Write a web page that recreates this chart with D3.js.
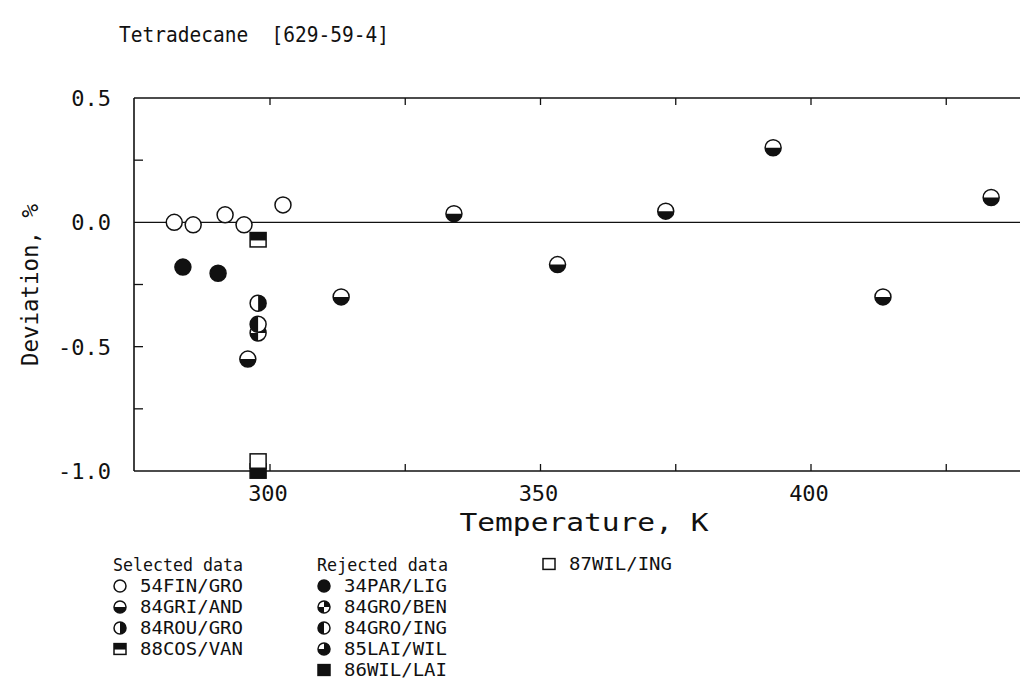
<!DOCTYPE html>
<html><head><meta charset="utf-8">
<script src="https://cdn.jsdelivr.net/npm/d3@7"></script>
<style>
body{margin:0;background:#fff;}
svg text{font-family:"DejaVu Sans Mono",monospace;fill:#111;white-space:pre;}
</style></head>
<body><svg id="c" width="1020" height="694"></svg>
<script>
// ---- data ----
const title = "Tetradecane  [629-59-4]";
const xTicksLabeled = [300, 350, 400];
const xTicksAll = [275, 300, 325, 350, 375, 400, 425, 450];
const yTicksLabeled = [0.5, 0.0, -0.5, -1.0];
const yTickText = ["0.5", "0.0", "-0.5", "-1.0"];
const yTicksMinor = [0.25, -0.25, -0.75];

// series: temperature (K) and deviation (%)
const fin54_T = [282.3, 285.8, 291.7, 295.2, 302.4];
const fin54_D = [0.0, -0.01, 0.03, -0.01, 0.07];
const gri84_T = [295.9, 313.15, 334.0, 353.15, 373.15, 393.0, 413.3, 433.3];
const gri84_D = [-0.55, -0.30, 0.035, -0.17, 0.045, 0.30, -0.30, 0.10];
const rou84_T = [297.8];
const rou84_D = [-0.325];
const cos88_T = [297.8];
const cos88_D = [-0.07];
const par34_T = [283.9, 290.4];
const par34_D = [-0.18, -0.205];
const ben84_T = [297.8];
const ben84_D = [-0.445];
const ing84_T = [297.8];
const ing84_D = [-0.41];
const lai85_T = [];
const lai85_D = [];
const wil86_T = [297.8];
const wil86_D = [-1.0];
const wil87_T = [297.8];
const wil87_D = [-0.96];

const series = [
  {name:"54FIN/GRO", sym:"open",     T:fin54_T, D:fin54_D, col:0, row:0},
  {name:"84GRI/AND", sym:"bottomHalf", T:gri84_T, D:gri84_D, col:0, row:1},
  {name:"84ROU/GRO", sym:"rightHalf", T:rou84_T, D:rou84_D, col:0, row:2},
  {name:"88COS/VAN", sym:"sqTopHalf", T:cos88_T, D:cos88_D, col:0, row:3},
  {name:"34PAR/LIG", sym:"filled",   T:par34_T, D:par34_D, col:1, row:0},
  {name:"84GRO/BEN", sym:"quadrants", T:ben84_T, D:ben84_D, col:1, row:1},
  {name:"84GRO/ING", sym:"leftHalf", T:ing84_T, D:ing84_D, col:1, row:2},
  {name:"85LAI/WIL", sym:"threeQuarter", T:lai85_T, D:lai85_D, col:1, row:3},
  {name:"86WIL/LAI", sym:"sqFilled", T:wil86_T, D:wil86_D, col:1, row:4},
  {name:"87WIL/ING", sym:"sqOpen",   T:wil87_T, D:wil87_D, col:2, row:-1}
];

// ---- layout ----
const svg = d3.select("#c");
const L = 134, T0 = 98, B = 471;
const x = d3.scaleLinear().domain([300, 400]).range([270, 811]);
const y = d3.scaleLinear().domain([-1, 0.5]).range([B, T0]);
const ink = "#111";

function drawSym(g, sym, r) {
  const arc = d3.arc().innerRadius(0).outerRadius(r);
  if (sym.startsWith("sq")) {
    const w = r*2, h = r*1.8;
    g.append("rect").attr("x",-w/2).attr("y",-h/2).attr("width",w).attr("height",h)
      .attr("fill", sym==="sqFilled"?ink:"#fff").attr("stroke",ink).attr("stroke-width",1.5);
    if (sym==="sqTopHalf") g.append("rect").attr("x",-w/2).attr("y",-h/2).attr("width",w).attr("height",h*0.55).attr("fill",ink);
    return;
  }
  g.append("circle").attr("r", r).attr("fill", sym==="filled"?ink:"#fff").attr("stroke", ink).attr("stroke-width", 1.5);
  const P = Math.PI;
  const fills = {
    bottomHalf: [[P/2, 3*P/2]],
    rightHalf: [[0, P]],
    leftHalf: [[P, 2*P]],
    quadrants: [[0, P/2], [P, 3*P/2]],
    threeQuarter: [[0, 3*P/2]]
  }[sym] || [];
  fills.forEach(([a0,a1]) => g.append("path").attr("d", arc({startAngle:a0, endAngle:a1})).attr("fill", ink));
}

// frame
const xr = 1020;
svg.append("line").attr("x1",L).attr("x2",xr).attr("y1",T0).attr("y2",T0).attr("stroke",ink).attr("stroke-width",1.6);
svg.append("line").attr("x1",L).attr("x2",xr).attr("y1",B).attr("y2",B).attr("stroke",ink).attr("stroke-width",1.6);
svg.append("line").attr("x1",L).attr("x2",L).attr("y1",T0).attr("y2",B).attr("stroke",ink).attr("stroke-width",1.6);
svg.append("line").attr("x1",L).attr("x2",xr).attr("y1",y(0)).attr("y2",y(0)).attr("stroke",ink).attr("stroke-width",1.4);

// x ticks
xTicksAll.filter(t => x(t) > L + 2 && x(t) < xr).forEach(t => {
  svg.append("line").attr("x1",x(t)).attr("x2",x(t)).attr("y1",B).attr("y2",B-7).attr("stroke",ink).attr("stroke-width",1.3);
  svg.append("line").attr("x1",x(t)).attr("x2",x(t)).attr("y1",T0).attr("y2",T0+7).attr("stroke",ink).attr("stroke-width",1.3);
});
xTicksLabeled.forEach(t => {
  svg.append("text").attr("x",x(t)-2).attr("y",B+30).attr("text-anchor","middle").attr("font-size",22).text(t);
});
// y ticks
yTicksMinor.concat([-0.5]).forEach(v => {
  svg.append("line").attr("x1",L).attr("x2",L+9).attr("y1",y(v)).attr("y2",y(v)).attr("stroke",ink).attr("stroke-width",1.3);
});
yTicksLabeled.forEach((v,i) => {
  svg.append("text").attr("x",111).attr("y",y(v)+8).attr("text-anchor","end").attr("font-size",22).text(yTickText[i]);
});

// axis titles
svg.append("text").attr("x",584).attr("y",531).attr("text-anchor","middle").attr("font-size",25)
  .attr("textLength",249).attr("lengthAdjust","spacingAndGlyphs").text("Temperature, K");
svg.append("text").attr("transform","translate(38,285) rotate(-90)").attr("text-anchor","middle").attr("font-size",23)
  .attr("textLength",162).attr("lengthAdjust","spacingAndGlyphs").text("Deviation, %");
// title
svg.append("text").attr("x",119).attr("y",42).attr("font-size",22)
  .attr("textLength",270).attr("lengthAdjust","spacingAndGlyphs").text(title);

// points
const plot = svg.append("g");
series.forEach(s => {
  s.T.forEach((t,i) => {
    const g = plot.append("g").attr("transform",`translate(${x(t)},${y(s.D[i])})`);
    drawSym(g, s.sym, 8);
  });
});

// legend
const colX = [113, 317, 542];
const rowY = [586, 607, 628, 649, 670];
svg.append("text").attr("x",113).attr("y",571).attr("font-size",17).attr("textLength",130).attr("lengthAdjust","spacingAndGlyphs").text("Selected data");
svg.append("text").attr("x",317).attr("y",571).attr("font-size",17).attr("textLength",131).attr("lengthAdjust","spacingAndGlyphs").text("Rejected data");
series.forEach(s => {
  const yy = s.row < 0 ? 564 : rowY[s.row];
  const cx = colX[s.col];
  const g = svg.append("g").attr("transform",`translate(${cx+7},${yy})`);
  drawSym(g, s.sym, 6);
  svg.append("text").attr("x",cx+27).attr("y",yy+6).attr("font-size",17)
    .attr("textLength",103).attr("lengthAdjust","spacingAndGlyphs").text(s.name);
});
</script></body></html>
